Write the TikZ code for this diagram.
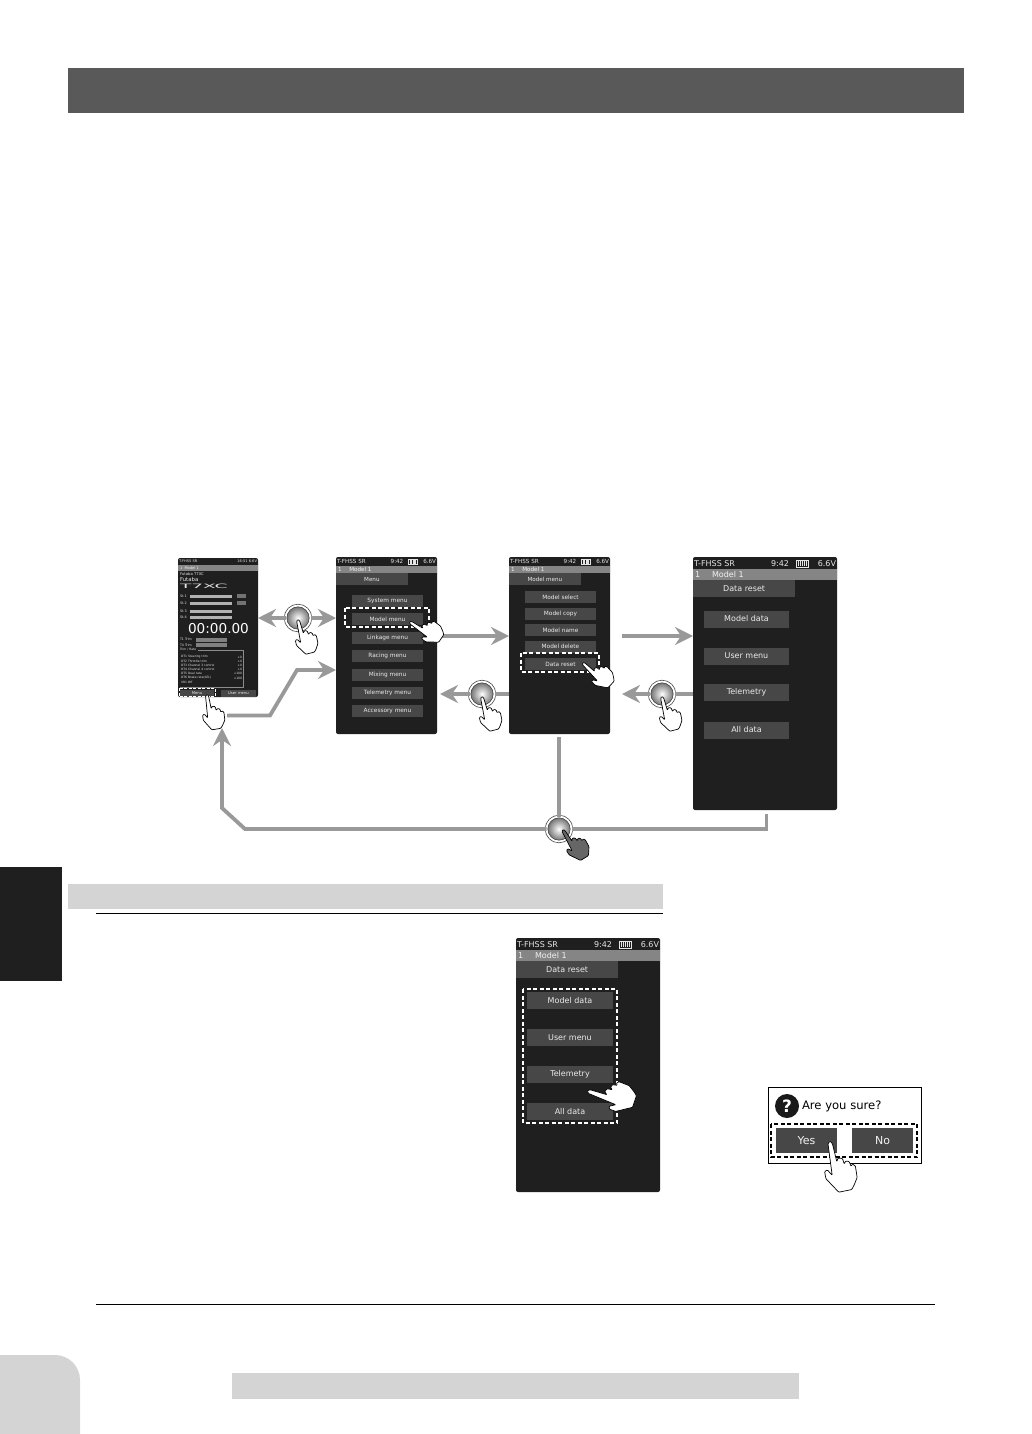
\documentclass[tikz,border=0pt]{standalone}
\usepackage{fontspec}
\setmainfont{DejaVu Sans}
\usetikzlibrary{arrows.meta,shadings}

\begin{document}
\begin{tikzpicture}[x=1pt, y=-1pt,
	fs/.style={font=\fontsize{#1}{#1}\selectfont},
	every node/.style={inner sep=0pt, outer sep=0pt},
	scrn/.style={fill=black!88, rounded corners=2pt, anchor=north west},
	menubtn/.style={fill=black!72, text=black!8},
	hilite/.style={draw=white, line width=1.3pt, dash pattern=on 4pt off 2.5pt},
	pushbtn/.style={circle, minimum size=25pt, shading=radial, inner color=white, outer color=black!60, draw=black!75, double=white, double distance=1.8pt, line width=.7pt},
	flow/.style={draw=black!40, line width=3.8pt},
	flowarrow/.style={flow, -{Stealth[length=18pt, width=18pt, inset=6pt]}},
	handfill/.style={fill=white},
	hand/.pic={\path[handfill, draw=black, line width=.7pt, rounded corners=.8pt, line join=round]
		(-1.5,1) -- (0,-.5) -- (1.5,1) -- (3.5,14) -- (4.5,11.5) -- (7.5,12) -- (8.5,16) -- (9.5,14) -- (12,14.5) -- (13,18) -- (14,16.5) -- (16,18) -- (16.5,26) -- (14,31) -- (12,34) -- (3,35) -- (-5,25) -- (-5.5,20) -- (-3.5,19) -- (-.5,23) -- cycle;}]
	\useasboundingbox (0,0) rectangle (1032,1434);

	\fill[black!65] (68,68) rectangle (964,113);
	\fill[black!88] (0,867) rectangle (62,981);
	\fill[black!17] (68,884) rectangle (663,909);
	\draw[line width=1.4pt] (96,913.5) -- (663,913.5);
	\draw[line width=1.4pt] (96,1304.5) -- (935,1304.5);
	\fill[black!17] (0,1434) -- (0,1355) [rounded corners=25pt] -- (80,1355) [sharp corners] -- (80,1434) -- cycle;
	\fill[black!17] (232,1373) rectangle (799,1399);

	\node[scrn, minimum width=80pt, minimum height=139pt] (scrA) at (178,558) {};
	\node[scrn, minimum width=101pt, minimum height=177pt] (scrB) at (336,557) {};
	\node[scrn, minimum width=101pt, minimum height=177pt] (scrC) at (509,557) {};
	\node[scrn, minimum width=144pt, minimum height=253pt] (scrD) at (693,557) {};
	\node[scrn, minimum width=144pt, minimum height=254pt] (scrE) at (516,938) {};

	\foreach \n/\x/\y/\w/\fs/\title in {B/336/557/101/5.6/Menu, C/509/557/101/5.6/Model menu, D/693/557/144/8/Data reset, E/516/938/144/8/Data reset} {
		\pgfmathsetmacro{\s}{\w/144}
		\node[fs=\fs, text=black!10, anchor=west] (stat\n) at (\x+1,\y+5.5*\s+1) {T-FHSS SR};
		\node[fs=\fs, text=black!10] (time\n) at (\x+.604*\w,\y+5.5*\s+1) {9:42};
		\node[fs=\fs, text=black!10, anchor=east] (volt\n) at (\x+\w-1,\y+5.5*\s+1) {6.6V};
		\draw[black!10, line width=.5pt] (\x+.72*\w,\y+2*\s+1) rectangle (\x+.80*\w,\y+9*\s+1);
		\foreach \k in {0,1,2,3,4}
			\fill[black!10] (\x+.73*\w+\k*.014*\w,\y+3*\s+1) rectangle ++(.009*\w,5*\s);
		\fill[black!48] (\x,\y+11*\s+1) rectangle (\x+\w,\y+22*\s+1);
		\node[fs=\fs, text=black!5, anchor=west] (num\n) at (\x+2,\y+16.5*\s+1) {1};
		\node[fs=\fs, text=black!5, anchor=west] (modl\n) at (\x+19*\s,\y+16.5*\s+1) {Model 1};
		\node[menubtn, anchor=north west, minimum width=.71*\w, minimum height=17*\s, fs=\fs] (tab\n) at (\x,\y+22*\s+1) {\title};
	}

	\foreach \y/\t [count=\i] in {601/System menu, 619/Model menu, 638/Linkage menu, 656/Racing menu, 674.5/Mixing menu, 693/Telemetry menu, 711/Accessory menu}
		\node[menubtn, fs=5.8, minimum width=71pt, minimum height=12pt] (btnB\i) at (387.5,\y) {\t};
	\foreach \y/\t [count=\i] in {597/Model select, 613.5/Model copy, 630/Model name, 646.5/Model delete, 664/Data reset}
		\node[menubtn, fs=5.8, minimum width=71pt, minimum height=12pt] (btnC\i) at (560.5,\y) {\t};
	\foreach \y/\t [count=\i] in {619/Model data, 656/User menu, 692.5/Telemetry, 730/All data}
		\node[menubtn, fs=8, minimum width=85pt, minimum height=17pt] (btnD\i) at (746.5,\y) {\t};
	\foreach \y/\t [count=\i] in {1000.5/Model data, 1037.5/User menu, 1074/Telemetry, 1111.5/All data}
		\node[menubtn, fs=8, minimum width=86pt, minimum height=17pt] (btnE\i) at (570,\y) {\t};

	\fill[black!48] (178,565) rectangle (258,571);
	\node[fs=3.6, text=black!10, anchor=west] (statA) at (179,561.5) {T-FHSS SR};
	\node[fs=3.6, text=black!10, anchor=east] (voltA) at (257,561.5) {16:51 6.6V};
	\node[fs=3.6, text=black!5, anchor=west] (modlA) at (180,568) {1\ \ Model 1};
	\node[fs=3.8, text=black!10, anchor=west] (nameA) at (180,574.5) {Futaba T7XC};
	\node[fs=5.4, text=black!10, anchor=west] (logoA) at (180,579.5) {Futaba};
	\node[fs=6, text=black!10, anchor=west] (typeA) at (180,586.5) {\scalebox{3.1}[1]{T7XC}};
	\foreach \y/\t [count=\i] in {596/St.1, 603/St.2, 611/St.3, 617/St.4} {
		\node[fs=3.4, text=black!10, anchor=west] (stckA\i) at (180,\y) {\t};
		\fill[black!30] (190,\y-1.5) rectangle (232,\y+1.5);
	}
	\fill[black!55] (237,594) rectangle (246,598);
	\fill[black!55] (237,601) rectangle (246,605);
	\node[fs=13.6, text=white] (timeA) at (218.5,629) {00:00.00};
	\foreach \y/\t [count=\i] in {639.5/T1 Trim, 645/T4 Trim} {
		\node[fs=3.2, text=black!10, anchor=west] (trimA\i) at (180,\y) {\t};
		\fill[black!50] (196,\y-2) rectangle (227,\y+2);
	}
	\node[fs=3, text=black!10, anchor=west] (headA) at (180,649.5) {Trim / Rate};
	\draw[black!45, line width=.5pt] (198,650) -- (243,650) -- (243,687) -- (180,687);
	\foreach \y/\t/\v [count=\i] in {657/DT1\ Steering trim/+0, 661/DT2\ Throttle trim/+0, 665/DT3\ Channel 3 control/+0, 669/DT4\ Channel 4 control/+0, 673/DT5\ Dual rate/+100, 678/DT6\ Brake rate(ATL)/+100, 682/VR1\ Off/} {
		\node[fs=3, text=black!10, anchor=west] (rowA\i) at (181,\y) {\t};
		\node[fs=3, text=black!10, anchor=east] (valA\i) at (242,\y) {\v};
	}
	\node[menubtn, fs=3.8, minimum width=34pt, minimum height=7pt] (menuA) at (197,693) {Menu};
	\node[menubtn, fs=3.8, minimum width=35pt, minimum height=7pt] (userA) at (238.5,693) {User menu};

	\draw[hilite, line width=1pt, dash pattern=on 3pt off 1.5pt] (179,688) rectangle (215,696.5);
	\draw[hilite] (345,608) rectangle (429,627);
	\draw[hilite] (521,653) rectangle (599,672);
	\draw[hilite] (523,989) rectangle (617,1123);

	\node[pushbtn] (pushA) at (298,618) {};
	\node[pushbtn] (pushB) at (482,694) {};
	\node[pushbtn] (pushC) at (662,694) {};
	\node[pushbtn] (pushD) at (559,829) {};

	\coordinate (leaveA) at (227,715.5);
	\coordinate (leaveB) at (440,636);
	\coordinate (leaveC) at (622,636);
	\coordinate (leaveD) at (559,737);
	\coordinate (leaveE) at (766.5,814);
	\draw[flowarrow] (pushA) -- (scrA.east |- pushA);
	\draw[flowarrow] (pushA) -- (scrB.west |- pushA);
	\draw[flowarrow] (leaveA) -- (270,715.5) -- (297,670) -- (scrB.west |- 0,670);
	\draw[flowarrow] (leaveB) -- (scrC.west |- leaveB);
	\draw[flowarrow] (leaveC) -- (scrD.west |- leaveC);
	\draw[flow] (scrC.west |- pushB) -- (pushB);
	\draw[flowarrow] (pushB) -- (440,694);
	\draw[flow] (scrD.west |- pushC) -- (pushC);
	\draw[flowarrow] (pushC) -- (622,694);
	\draw[flow] (leaveD) -- (pushD);
	\draw[flow] (leaveE) -- (766.5,829) -- (pushD);
	\draw[flowarrow] (pushD) -- (245,829) -- (222,808) -- (222,728);

	\pic[rotate=3] at (207,695) {hand};
	\pic[rotate=50] at (410,622) {hand};
	\pic[rotate=40] at (583,663) {hand};
	\pic[rotate=8] at (298,620) {hand};
	\pic[rotate=8] at (482,697) {hand};
	\pic[rotate=8] at (662,697) {hand};
	\pic[rotate=25, handfill/.style={fill=black!60}] at (563,830) {hand};
	\pic[rotate=65, scale=1.35] at (588,1091) {hand};

	\node[draw=black, line width=.9pt, minimum width=153pt, minimum height=76pt, anchor=north west, fill=white] (dlgBox) at (768,1087) {};
	\node[circle, fill=black!90, minimum size=24pt, text=white, font=\fontsize{17}{17}\selectfont\bfseries] (dlgIcon) at (787,1106) {?};
	\node[fs=11.6, anchor=west] (dlgText) at (802,1106) {Are you sure?};
	\node[menubtn, text=black!5, fs=11, minimum width=61pt, minimum height=25pt] (dlgYes) at (806.5,1140.5) {Yes};
	\node[menubtn, text=black!5, fs=11, minimum width=61pt, minimum height=25pt] (dlgNo) at (882.5,1140.5) {No};
	\draw[line width=1.2pt, dash pattern=on 4pt off 2.5pt] (771,1124) rectangle (917,1157);
	\pic[rotate=5, scale=1.45] at (830,1142) {hand};
\end{tikzpicture}
\end{document}
